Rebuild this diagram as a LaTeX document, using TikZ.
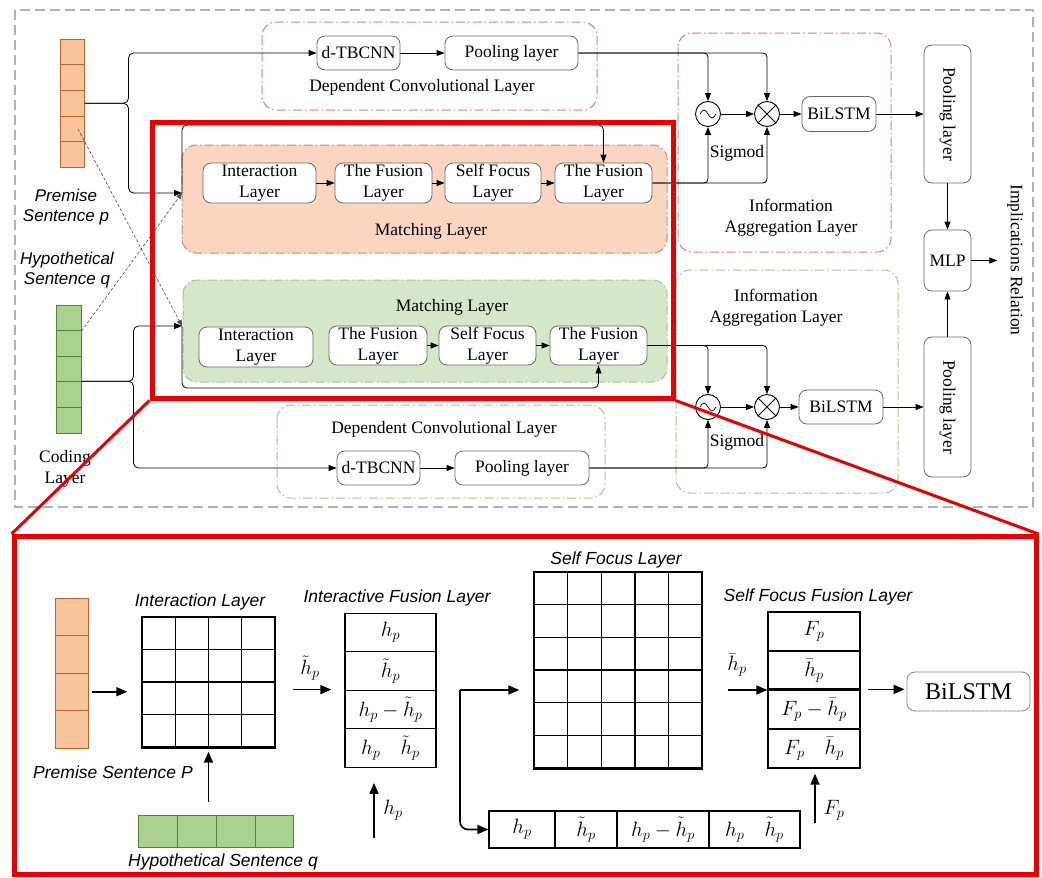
\documentclass[tikz,border=0pt]{standalone}
\usepackage{fontspec}
\setmainfont{Liberation Serif}
\newfontfamily\sansit{Liberation Sans}
\usetikzlibrary{arrows.meta}
\definecolor{orcell}{RGB}{248,196,156}
\definecolor{ordraw}{RGB}{192,98,44}
\definecolor{grcell}{RGB}{169,209,142}
\definecolor{grdraw}{RGB}{84,130,53}
\definecolor{orfill}{RGB}{250,214,192}
\definecolor{grfill}{RGB}{214,230,200}
\definecolor{reddash}{RGB}{210,130,130}
\definecolor{grdash}{RGB}{170,195,140}
\definecolor{framered}{RGB}{232,0,0}
\definecolor{boxgray}{RGB}{105,105,105}

\begin{document}
\begin{tikzpicture}[x=1pt,y=-1pt,
  font=\fontsize{17.5}{21}\selectfont,
  arr/.style={-{Triangle[length=8pt,width=6pt]}, line width=0.8pt},
  barr/.style={-{Triangle[length=11pt,width=9pt]}, line width=1.6pt},
  blk/.style={draw=boxgray, fill=white, rounded corners=8pt, align=center, inner sep=0pt, line width=0.8pt},
  cont/.style={rounded corners=14pt, dash pattern=on 9pt off 3pt on 1.5pt off 3pt, line width=1pt},
  ocell/.style={draw=ordraw, fill=orcell, line width=1pt, minimum width=24pt, minimum height=25.6pt, inner sep=0pt},
  gcell/.style={draw=grdraw, fill=grcell, line width=1pt, minimum width=25pt, minimum height=25.6pt, inner sep=0pt},
  opnode/.style={circle, draw, line width=0.9pt, minimum size=25pt, inner sep=0pt, fill=white},
  lbl/.style={font=\sansit\itshape\fontsize{17}{20}\selectfont, align=center},
  hand/.style={font=\sansit\itshape\fontsize{17.5}{20}\selectfont},
  rowbox/.style={draw, line width=1.3pt, inner sep=0pt, minimum height=38.5pt, font=\fontsize{20}{22}\selectfont},
  mth/.style={font=\fontsize{20}{22}\selectfont, inner sep=1pt}]
\useasboundingbox (0,0) rectangle (1042,878);

\draw[gray!60, dash pattern=on 10pt off 5pt, line width=1.2pt] (15,10) rectangle (1033,507);
\draw[cont, draw=reddash] (262,22) rectangle (597,110);
\draw[cont, draw=reddash] (678,33) rectangle (891,252);
\draw[cont, draw=reddash, fill=orfill] (182,145) rectangle (667,253);
\draw[cont, draw=grdash, fill=grfill] (183,280) rectangle (667,382);
\draw[cont, draw=grdash] (676,270) rectangle (898,493);
\draw[cont, draw=grdash] (277,405) rectangle (605,498);

\foreach \i in {1,...,5} \node[ocell] (pv\i) at (72,{26.5+25.6*\i}) {};
\foreach \i in {1,...,5} \node[gcell] (hv\i) at (68.5,{292.2+25.6*\i}) {};
\node[lbl] (pl) at (66,207) {Premise\\Sentence p};
\node[lbl] (hl) at (67,270) {Hypothetical\\Sentence q};
\node[align=center] (cl) at (65,468.5) {Coding\\Layer};

\node[blk, minimum width=83pt, minimum height=34pt] (dtA) at (358.5,53) {d-TBCNN};
\node[blk, minimum width=133pt, minimum height=34pt] (poolA) at (511.5,53) {Pooling layer};
\node (depAl) at (422,87) {Dependent Convolutional Layer};
\node[blk, minimum width=113pt, minimum height=40pt] (intA) at (259.5,183) {Interaction\\Layer};
\node[blk, minimum width=97pt, minimum height=40pt] (fusA) at (383.5,183) {The Fusion\\Layer};
\node[blk, minimum width=96pt, minimum height=40pt] (selfA) at (493,183) {Self Focus\\Layer};
\node[blk, minimum width=97pt, minimum height=40pt] (fus2A) at (603.5,183) {The Fusion\\Layer};
\node (matAl) at (431,231) {Matching Layer};

\node (matBl) at (452,307) {Matching Layer};
\node[blk, minimum width=114pt, minimum height=40pt] (intB) at (256,347) {Interaction\\Layer};
\node[blk, minimum width=98pt, minimum height=39pt] (fusB) at (378,345.5) {The Fusion\\Layer};
\node[blk, minimum width=97pt, minimum height=39pt] (selfB) at (487.5,345.5) {Self Focus\\Layer};
\node[blk, minimum width=97pt, minimum height=39pt] (fus2B) at (598.5,345.5) {The Fusion\\Layer};
\node (depBl) at (444,429) {Dependent Convolutional Layer};
\node[blk, minimum width=83pt, minimum height=34pt] (dtB) at (378.5,468) {d-TBCNN};
\node[blk, minimum width=134pt, minimum height=34pt] (poolB) at (522,468) {Pooling layer};

\node[opnode] (sgA) at (708,114) {};
\node[opnode] (mulA) at (767,114) {};
\node[opnode] (sgB) at (708,407) {};
\node[opnode] (mulB) at (767,407) {};
\foreach \s in {sgA,sgB} \draw[line width=0.7pt] ([xshift=-8pt]\s.center) sin ++(4,-4) cos ++(4,4) sin ++(4,4) cos ++(4,-4);
\foreach \m in {mulA,mulB} \draw[line width=0.9pt] (\m.45) -- (\m.225) (\m.135) -- (\m.315);
\node (sgAl) at (737,153) {Sigmod};
\node (sgBl) at (737,442) {Sigmod};
\node[blk, minimum width=74pt, minimum height=35pt] (bilA) at (839,114) {BiLSTM};
\node[blk, minimum width=84pt, minimum height=34pt] (bilB) at (841,407) {BiLSTM};
\node[align=center] (infAl) at (791,217.5) {Information\\Aggregation Layer};
\node[align=center] (infBl) at (776,307.5) {Information\\Aggregation Layer};

\node[blk, minimum width=47pt, minimum height=138pt] (plA) at (947.5,114) {};
\node[rotate=-90] (plAt) at (plA) {Pooling layer};
\node[blk, minimum width=47pt, minimum height=140pt] (plB) at (947.5,407) {};
\node[rotate=-90] (plBt) at (plB) {Pooling layer};
\node[blk, minimum width=47pt, minimum height=61pt] (mlp) at (947.5,260.5) {MLP};
\node[rotate=-90] (imp) at (1015,260) {Implications Relation};

\coordinate (inA) at (182,193);
\coordinate (inB) at (182,326);
\draw[arr, rounded corners=5pt] (pv3.east) -- ++(44,0) |- (dtA.west);
\draw[arr, rounded corners=5pt] (pv3.east) -- ++(44,0) |- (inA);
\draw[arr, rounded corners=5pt] (inA) -- ++(0,-68) -| (fus2A.north);
\draw[arr, rounded corners=5pt] (hv4.north east) -- ++(52,0) |- (inB);
\draw[arr, rounded corners=5pt] (hv4.north east) -- ++(52,0) |- (dtB.west);
\draw[arr, rounded corners=5pt] (inB) -- ++(0,62) -| (fus2B.south);
\draw[-{Triangle[length=6pt,width=5pt]}, dash pattern=on 3pt off 2pt, gray!60!black, line width=0.6pt] ([xshift=6pt]pv4.center) -- (inB);
\draw[-{Triangle[length=6pt,width=5pt]}, dash pattern=on 3pt off 2pt, gray!60!black, line width=0.6pt] (hv1.south east) -- (inA);

\draw[arr] (dtA) -- (poolA);
\draw[arr] (intA) -- (fusA);
\draw[arr] (fusA) -- (selfA);
\draw[arr] (selfA) -- (fus2A);
\draw[arr] (fusB) -- (selfB);
\draw[arr] (selfB) -- (fus2B);
\draw[arr] (dtB) -- (poolB);

\draw[arr, rounded corners=4pt] (poolA.east) -| (sgA.north);
\draw[arr, rounded corners=4pt] (poolA.east) -| (mulA.north);
\draw[arr, rounded corners=4pt] (fus2A.east) -| (sgA.south);
\draw[arr, rounded corners=4pt] (fus2A.east) -| (mulA.south);
\draw[arr] (sgA) -- (mulA);
\draw[arr] (mulA) -- (bilA);
\draw[arr] (bilA) -- (plA);
\draw[arr, rounded corners=4pt] (fus2B.east) -| (sgB.north);
\draw[arr, rounded corners=4pt] (fus2B.east) -| (mulB.north);
\draw[arr, rounded corners=4pt] (poolB.east) -| (sgB.south);
\draw[arr, rounded corners=4pt] (poolB.east) -| (mulB.south);
\draw[arr] (sgB) -- (mulB);
\draw[arr] (mulB) -- (bilB);
\draw[arr] (bilB) -- (plB);
\draw[arr] (plA) -- (mlp);
\draw[arr] (plB) -- (mlp);
\draw[arr] (mlp.east) -- ++(26,0);

\foreach \i in {1,...,4} \node[ocell, minimum width=33pt, minimum height=37.5pt] (pb\i) at (71.5,{579.25+37.5*\i}) {};
\foreach \i in {1,...,4} \node[gcell, minimum width=38.75pt, minimum height=32pt] (hb\i) at ({119.5+38.75*\i},831) {};
\node[hand] (pbl) at (113,772) {Premise Sentence P};
\node[hand] (hbl) at (223,862) {Hypothetical Sentence q};

\node[draw, line width=1.4pt, minimum width=133pt, minimum height=130pt, inner sep=0pt] (igrid) at (208.5,682) {};
\foreach \k in {1,2,3} {
  \draw[line width=1.4pt] (142+33.25*\k,617) -- ++(0,130);
  \draw[line width=1.4pt] (142,617+32.5*\k) -- ++(133,0);
}
\draw[line width=3pt] (igrid.south west) -- (igrid.south east);
\node[hand] (igl) at (200,602) {Interaction Layer};
\draw[barr, shorten <=3pt, shorten >=14pt] (pb3.east) -- (pb3.east -| igrid.west);
\draw[barr, shorten <=13pt, shorten >=4pt] (igrid.south |- hb1.north) -- (igrid.south);

\foreach \t [count=\i] in {{$h_p$},{$\tilde{h}_p$},{$h_p-\tilde{h}_p$},{$h_p\quad\tilde{h}_p$}}
  \node[rowbox, minimum width=91pt] (if\i) at (390.5,{594+38.5*\i}) {\t};
\node[hand] (ifl) at (397,598) {Interactive Fusion Layer};
\draw[barr] ([xshift=17pt]igrid.east |- if3.north) -- ([xshift=-13pt]if3.north west);
\node[mth] (htl) at (310,668) {$\tilde{h}_p$};
\coordinate (hin) at (374,838);
\draw[barr, shorten >=15pt] (hin) -- (hin |- if4.south);
\node[mth] (hinl) at (393,810) {$h_p$};

\node[draw, line width=1.4pt, minimum width=168pt, minimum height=196pt, inner sep=0pt] (sgrid) at (618,670) {};
\foreach \k in {1,...,4} \draw[line width=1.4pt] (534+33.6*\k,572) -- ++(0,196);
\foreach \k in {1,...,5} \draw[line width=1.4pt] (534,572+32.67*\k) -- ++(168,0);
\draw[line width=3pt] (sgrid.south west) -- (sgrid.south east);
\node[hand] (sgl) at (616,560) {Self Focus Layer};
\coordinate (split) at (460,690);
\draw[barr, shorten >=14pt] (split) -- (split -| sgrid.west);

\node[rowbox, minimum width=66pt, minimum height=37pt] (r1) at (522,829.5) {$h_p$};
\node[rowbox, minimum width=62pt, minimum height=37pt] (r2) at (586,829.5) {$\tilde{h}_p$};
\node[rowbox, minimum width=92pt, minimum height=37pt] (r3) at (663,829.5) {$h_p-\tilde{h}_p$};
\node[rowbox, minimum width=91pt, minimum height=37pt] (r4) at (754.5,829.5) {$h_p\quad\tilde{h}_p$};
\draw[barr, rounded corners=8pt] (split) |- (r1.west);

\foreach \t [count=\i] in {{$F_p$},{$\bar{h}_p$},{$F_p-\bar{h}_p$},{$F_p\quad\bar{h}_p$}}
  \node[rowbox, minimum width=92pt, minimum height=39pt] (sf\i) at (814,{592.5+39*\i}) {\t};
\draw[line width=3pt] (sf3.north west) -- (sf3.north east);
\node[hand] (sfl) at (818,597) {Self Focus Fusion Layer};
\coordinate (hbin) at (728,690);
\draw[barr] (hbin) -- (hbin -| sf3.west);
\node[mth] (hbl2) at (737,665) {$\bar{h}_p$};
\coordinate (fin) at (815,823);
\draw[barr, shorten >=5pt] (fin) -- (fin |- sf4.south);
\node[mth] (finl) at (834,810) {$F_p$};
\node[blk, draw=gray, dash pattern=on 4pt off 0.5pt, minimum width=123pt, minimum height=39pt, font=\fontsize{24}{26}\selectfont] (bilC) at (968.5,691.5) {BiLSTM};
\draw[barr, shorten <=7pt, shorten >=2pt] (sf3.north east) -- (sf3.north east -| bilC.west);

\node[draw=framered, line width=5pt, minimum width=521pt, minimum height=276pt, inner sep=0pt] (zsrc) at (412.5,260) {};
\node[draw=framered, line width=5pt, minimum width=1022pt, minimum height=338pt, inner sep=0pt] (zdst) at (525,705.5) {};
\draw[framered, line width=3pt] (zsrc.south west) -- (zdst.north west);
\draw[framered, line width=3pt] (zsrc.south east) -- (zdst.north east);
\end{tikzpicture}
\end{document}
